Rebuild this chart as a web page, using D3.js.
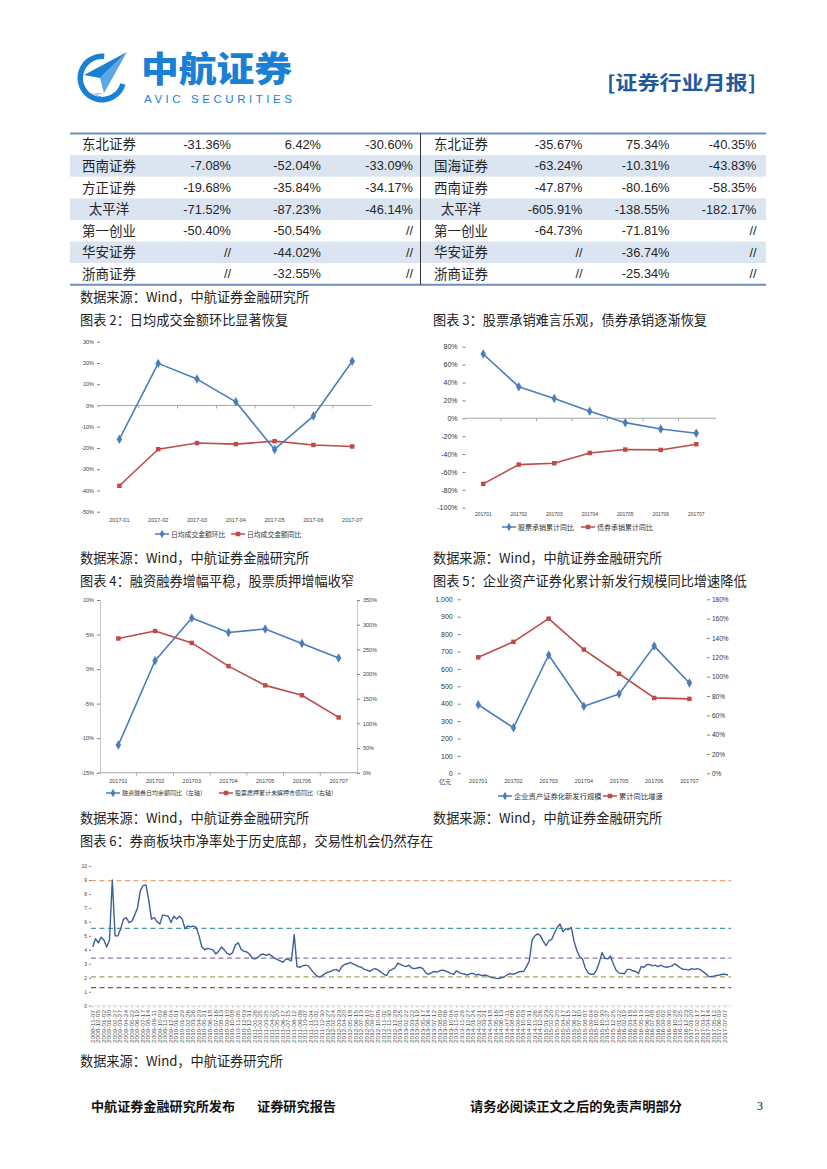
<!DOCTYPE html>
<html><head><meta charset="utf-8"><title>证券行业月报</title>
<script src="https://cdn.jsdelivr.net/npm/d3@7/dist/d3.min.js"></script>
<style>html,body{margin:0;padding:0;background:#fff}svg{display:block}</style>
</head><body>
<svg id="page" width="827" height="1169" xmlns="http://www.w3.org/2000/svg"></svg>
<script>
// ===================== DATA =====================
const tableLeftNames = ["东北证券","西南证券","方正证券","太平洋","第一创业","华安证券","浙商证券"];
const tableLeftCol1 = [-31.36,-7.08,-19.68,-71.52,-50.40,null,null];
const tableLeftCol2 = [6.42,-52.04,-35.84,-87.23,-50.54,-44.02,-32.55];
const tableLeftCol3 = [-30.60,-33.09,-34.17,-46.14,null,null,null];
const tableRightNames = ["东北证券","国海证券","西南证券","太平洋","第一创业","华安证券","浙商证券"];
const tableRightCol1 = [-35.67,-63.24,-47.87,-605.91,-64.73,null,null];
const tableRightCol2 = [75.34,-10.31,-80.16,-138.55,-71.81,-36.74,-25.34];
const tableRightCol3 = [-40.35,-43.83,-58.35,-182.17,null,null,null];

// Chart 2
const months2 = ["2017-01","2017-02","2017-03","2017-04","2017-05","2017-06","2017-07"];
const turnoverMoM = [-15.9,19.8,12.4,1.7,-20.7,-5.0,20.8];
const turnoverYoY = [-37.8,-20.6,-17.7,-18.2,-16.8,-18.6,-19.3];
const ticks2 = [-50,-40,-30,-20,-10,0,10,20,30];
const legend2 = ["日均成交金额环比","日均成交金额同比"];

// Chart 3
const months = ["201701","201702","201703","201704","201705","201706","201707"];
const equityUW = [71.8,35.3,22.0,7.8,-4.9,-12.0,-16.8];
const bondUW = [-73.4,-51.8,-50.3,-38.8,-35.0,-35.4,-29.0];
const ticks3 = [-100,-80,-60,-40,-20,0,20,40,60,80];
const legend3 = ["股票承销累计同比","债券承销累计同比"];

// Chart 4
const marginYoY = [-11.0,1.2,7.4,5.3,5.8,3.7,1.6];
const pledgeYoY = [272,287,263,216,177,157,112];
const ticks4L = [-15,-10,-5,0,5,10];
const ticks4R = [0,50,100,150,200,250,300,350];
const legend4 = ["融资融券日均余额同比（左轴）","股票质押累计未解押市值同比（右轴）"];

// Chart 5
const absIssue = [394,262,680,385,456,731,519];
const absGrowth = [120,136,160,128,103,78,77];
const ticks5L = [0,100,200,300,400,500,600,700,800,900,1000];
const ticks5R = [0,20,40,60,80,100,120,140,160,180];
const legend5 = ["企业资产证券化新发行规模","累计同比增速"];

// Chart 6 (PB of brokerage sector, bi-weekly samples)
const pbDateLabels = ["2008-11-07","2008-12-05","2009-01-02","2009-01-30","2009-02-27","2009-03-27","2009-04-24","2009-05-22","2009-06-19","2009-07-17","2009-08-14","2009-09-11","2009-10-09","2009-11-06","2009-12-04",
"2010-01-01","2010-01-29","2010-02-26","2010-03-26","2010-04-23","2010-05-21","2010-06-18","2010-07-16","2010-08-13","2010-09-10","2010-10-08","2010-11-05","2010-12-03","2010-12-31",
"2011-01-28","2011-02-25","2011-03-25","2011-04-22","2011-05-20","2011-06-17","2011-07-15","2011-08-12","2011-09-09","2011-10-07","2011-11-04","2011-12-02","2011-12-30",
"2012-01-27","2012-02-24","2012-03-23","2012-04-20","2012-05-18","2012-06-15","2012-07-13","2012-08-10","2012-09-07","2012-10-05","2012-11-02","2012-11-30","2012-12-28",
"2013-01-25","2013-02-22","2013-03-22","2013-04-19","2013-05-17","2013-06-14","2013-07-12","2013-08-09","2013-09-06","2013-10-04","2013-11-01","2013-11-29","2013-12-27",
"2014-01-24","2014-02-21","2014-03-21","2014-04-18","2014-05-16","2014-06-13","2014-07-11","2014-08-08","2014-09-05","2014-10-03","2014-10-31","2014-11-28","2014-12-26",
"2015-01-23","2015-02-20","2015-03-20","2015-04-17","2015-05-15","2015-06-12","2015-07-10","2015-08-07","2015-09-04","2015-10-02","2015-10-30","2015-11-27","2015-12-25",
"2016-01-22","2016-02-19","2016-03-18","2016-04-15","2016-05-13","2016-06-10","2016-07-08","2016-08-05","2016-09-02","2016-09-30","2016-10-28","2016-11-25","2016-12-23",
"2017-01-20","2017-02-17","2017-03-17","2017-04-14","2017-05-12","2017-06-09","2017-07-07"];
const pbValues = [
4.2,4.8,4.5,4.9,4.7,4.2,4.7,9.0,5.0,5.0,
5.5,6.2,6.3,5.95,6.05,6.5,7.0,8.2,8.6,8.65,
7.6,6.2,6.3,6.0,5.85,6.5,6.45,6.4,5.95,6.4,
6.2,6.4,6.2,5.5,5.7,5.65,5.7,5.6,5.0,4.2,
4.0,4.1,4.05,4.0,3.7,3.9,4.2,4.0,3.75,3.65,
3.8,4.35,4.5,4.05,3.9,3.85,3.7,3.4,3.35,3.45,
3.65,3.7,3.6,3.7,3.55,3.4,3.3,3.2,3.1,3.35,
3.3,3.2,5.1,2.8,2.75,2.85,
2.9,2.85,2.6,2.35,2.15,2.05,2.15,2.3,2.4,2.45,
2.55,2.6,2.45,2.8,2.95,3.0,3.1,3.0,2.9,2.8,
2.75,2.6,2.55,2.45,2.6,2.65,2.55,2.4,2.25,2.15,
2.5,2.6,2.7,3.05,2.95,2.85,2.8,2.9,2.7,2.65,
2.7,2.75,2.65,2.35,2.25,2.35,2.45,2.4,2.5,2.55,
2.5,2.4,2.3,2.25,2.5,2.35,2.3,2.25,2.2,2.3,
2.3,2.2,2.25,2.15,2.2,2.15,2.05,2.0,1.97,1.95,
2.0,2.05,2.2,2.3,2.25,2.3,2.4,2.45,2.45,
2.8,3.2,4.7,5.0,5.15,5.0,4.6,4.3,4.65,4.75,
5.2,5.6,5.85,5.3,5.5,5.45,5.6,4.6,3.95,3.5,
3.35,2.7,2.35,2.25,2.25,2.55,3.1,3.8,3.4,3.35,
3.55,3.0,2.55,2.35,2.3,2.3,2.6,2.6,2.5,2.45,
2.3,2.8,2.75,2.95,2.95,2.85,2.9,2.8,2.9,2.8,
2.75,2.8,2.85,3.0,2.85,2.7,2.6,2.6,2.55,2.65,
2.6,2.65,2.6,2.45,2.3,2.1,2.07,2.12,2.17,2.2,
2.25,2.25,2.2];
const pbRefValues = [8.95,5.54,3.41,2.07,1.3];
const pbRefColors = ["#eaa57a","#4b98a4","#8a7cab","#a8a35c","#a6443f"];
const ticks6 = [0,1,2,3,4,5,6,7,8,9,10];

// ===================== STYLE =====================
const CJK = "'Noto Sans CJK SC','Noto Sans',sans-serif";
const LAT = "'Liberation Sans',Arial,sans-serif";
const NARROW = "'Liberation Sans Narrow','Liberation Sans',Arial,sans-serif";
const BLUE = "#4a7ebb", RED = "#be4b48";

const svg = d3.select("#page");
svg.append("rect").attr("width",827).attr("height",1169).attr("fill","#fff");

function txt(g, x, y, s, o = {}) {
  const t = g.append("text").attr("x", x).attr("y", y).text(s)
    .attr("font-family", o.ff || CJK).attr("font-size", o.fs || 12)
    .attr("fill", o.fill || "#222").attr("text-anchor", o.anchor || "start")
    .attr("font-weight", o.fw || "normal");
  if (o.len) t.attr("textLength", o.len).attr("lengthAdjust", o.adj || "spacingAndGlyphs");
  return t;
}
function styleAxis(sel, o) {
  sel.attr("font-family", LAT);
  sel.select(".domain").attr("stroke", o.domain || "none");
  sel.selectAll(".tick line").attr("stroke", o.tick || "#808080");
  sel.selectAll(".tick text").attr("font-size", o.fs).attr("fill", o.fill || "#404040");
}
function seriesLine(g, xs, y, cats, vals, color, marker) {
  const cx = i => xs(cats[i]) + xs.bandwidth() / 2;
  g.append("path").datum(vals)
    .attr("d", d3.line().x((d, i) => cx(i)).y(d => y(d)))
    .attr("fill", "none").attr("stroke", color).attr("stroke-width", 1.6).attr("stroke-linejoin", "round");
  g.selectAll(null).data(vals).join("path")
    .attr("transform", (d, i) => `translate(${cx(i)},${y(d)})`)
    .attr("d", d3.symbol().type(marker === "diamond" ? d3.symbolDiamond : d3.symbolSquare).size(marker === "diamond" ? 26 : 20))
    .attr("fill", color);
}
function legendItem(g, x, y, color, marker, label, fs) {
  g.append("line").attr("x1", x).attr("x2", x + 14).attr("y1", y).attr("y2", y)
    .attr("stroke", color).attr("stroke-width", 1.5);
  g.append("path").attr("transform", `translate(${x + 7},${y})`)
    .attr("d", d3.symbol().type(marker === "diamond" ? d3.symbolDiamond : d3.symbolSquare).size(20)())
    .attr("fill", color);
  txt(g, x + 16, y + fs * 0.38, label, { fs, fill: "#333" });
}

// ===================== HEADER =====================
const hdr = svg.append("g");
hdr.append("path").attr("transform", "translate(102,78)")
  .attr("d", d3.arc().innerRadius(19).outerRadius(24.5).startAngle(1.85).endAngle(2 * Math.PI + 0.1)())
  .attr("fill", "#1a80d5");
hdr.append("path").attr("d", "M127,52 L84,75 L100,78 Z").attr("fill", "#1a80d5");
hdr.append("path").attr("d", "M127,52 L100,78 L104,93 Z").attr("fill", "#5aa6e6");
txt(hdr, 95, 97, "AVIC", { ff: LAT, fs: 5.5, fill: "#1a80d5", anchor: "middle" });
txt(hdr, 141, 82, "中航证券", { fs: 35, fw: 900, fill: "#1a80d5", len: 151 });
txt(hdr, 144, 102.5, "AVIC SECURITIES", { ff: LAT, fs: 11.5, fill: "#1a80d5", len: 148, adj: "spacing" });
txt(hdr, 607, 90, "[证券行业月报]", { fs: 19.5, fw: 700, fill: "#22599a", len: 149 });

// ===================== TABLE =====================
const tb = svg.append("g");
const rowTop = 133.5, rowH = 21.6;
tableLeftNames.forEach((n, i) => {
  if (i % 2 === 1) tb.append("rect").attr("x", 70).attr("y", rowTop + i * rowH).attr("width", 696).attr("height", rowH).attr("fill", "#dbe5f1");
});
tb.append("line").attr("x1", 70).attr("x2", 766).attr("y1", rowTop).attr("y2", rowTop).attr("stroke", "#6f8fc0").attr("stroke-width", 2);
tb.append("line").attr("x1", 70).attr("x2", 766).attr("y1", rowTop + 7 * rowH).attr("y2", rowTop + 7 * rowH).attr("stroke", "#6f8fc0").attr("stroke-width", 2);
tb.append("line").attr("x1", 420.5).attr("x2", 420.5).attr("y1", rowTop).attr("y2", rowTop + 7 * rowH).attr("stroke", "#333").attr("stroke-width", 1);
const fmtPct = v => v === null ? "//" : v.toFixed(2) + "%";
function tableHalf(names, cols, nameX, colX) {
  names.forEach((n, i) => {
    const yb = rowTop + i * rowH + rowH / 2 + 5;
    txt(tb, nameX, yb, n, { fs: 13.5, anchor: "middle", fill: "#262626" });
    cols.forEach((c, j) => txt(tb, colX[j], yb - 0.5, fmtPct(c[i]), { ff: NARROW, fs: 12.8, anchor: "end", fill: "#262626" }));
  });
}
tableHalf(tableLeftNames, [tableLeftCol1, tableLeftCol2, tableLeftCol3], 109, [231, 321, 413]);
tableHalf(tableRightNames, [tableRightCol1, tableRightCol2, tableRightCol3], 461, [582.5, 669.5, 756.5]);

// ===================== CAPTIONS =====================
const cap = svg.append("g");
const capFs = 13.2;
txt(cap, 80, 302, "数据来源：Wind，中航证券金融研究所", { fs: capFs });
txt(cap, 80, 325, "图表 2：日均成交金额环比显著恢复", { fs: capFs });
txt(cap, 433, 325, "图表 3：股票承销难言乐观，债券承销逐渐恢复", { fs: capFs });
txt(cap, 80, 563, "数据来源：Wind，中航证券金融研究所", { fs: capFs });
txt(cap, 433, 563, "数据来源：Wind，中航证券金融研究所", { fs: capFs });
txt(cap, 80, 586, "图表 4：融资融券增幅平稳，股票质押增幅收窄", { fs: capFs });
txt(cap, 433, 586, "图表 5：企业资产证券化累计新发行规模同比增速降低", { fs: capFs });
txt(cap, 80, 823, "数据来源：Wind，中航证券金融研究所", { fs: capFs });
txt(cap, 433, 823, "数据来源：Wind，中航证券金融研究所", { fs: capFs });
txt(cap, 80, 846, "图表 6：券商板块市净率处于历史底部，交易性机会仍然存在", { fs: capFs });
txt(cap, 80, 1066, "数据来源：Wind，中航证券研究所", { fs: capFs });

// ===================== CHART 2 =====================
{
  const g = svg.append("g");
  const x = d3.scaleBand().domain(months2).range([100, 371.6]);
  const y = d3.scaleLinear().domain([-50, 30]).range([511.7, 341.7]);
  g.append("g").attr("transform", "translate(100,0)")
    .call(d3.axisLeft(y).tickValues(ticks2).tickFormat(d => d + "%").tickSize(3).tickPadding(3))
    .call(styleAxis, { fs: 5.5 });
  g.append("line").attr("x1", 100).attr("x2", 371.6).attr("y1", y(0)).attr("y2", y(0)).attr("stroke", "#a6a6a6");
  g.selectAll(null).data(months2.slice(1)).join("line")
    .attr("x1", d => x(d)).attr("x2", d => x(d)).attr("y1", y(0)).attr("y2", y(0) + 3).attr("stroke", "#a6a6a6");
  g.append("g").attr("transform", `translate(0,${y(-50)})`)
    .call(d3.axisBottom(x).tickSize(0).tickPadding(6)).call(styleAxis, { fs: 5.5 });
  seriesLine(g, x, y, months2, turnoverYoY, RED, "square");
  seriesLine(g, x, y, months2, turnoverMoM, BLUE, "diamond");
  legendItem(g, 155, 534, BLUE, "diamond", legend2[0], 6.8);
  legendItem(g, 231, 534, RED, "square", legend2[1], 6.8);
}

// ===================== CHART 3 =====================
{
  const g = svg.append("g");
  const x = d3.scaleBand().domain(months).range([465.5, 714]);
  const y = d3.scaleLinear().domain([-100, 80]).range([507.7, 346.7]);
  g.append("g").attr("transform", "translate(465.5,0)")
    .call(d3.axisLeft(y).tickValues(ticks3).tickFormat(d => d + "%").tickSize(3).tickPadding(5))
    .call(styleAxis, { fs: 7, fill: "#333" });
  g.append("line").attr("x1", 465.5).attr("x2", 716).attr("y1", y(0)).attr("y2", y(0)).attr("stroke", "#a6a6a6");
  g.selectAll(null).data(months.slice(1)).join("line")
    .attr("x1", d => x(d)).attr("x2", d => x(d)).attr("y1", y(0)).attr("y2", y(0) + 3).attr("stroke", "#a6a6a6");
  g.append("g").attr("transform", `translate(0,${y(-100)})`)
    .call(d3.axisBottom(x).tickSize(0).tickPadding(5)).call(styleAxis, { fs: 5 });
  seriesLine(g, x, y, months, bondUW, RED, "square");
  seriesLine(g, x, y, months, equityUW, BLUE, "diamond");
  legendItem(g, 502, 527, BLUE, "diamond", legend3[0], 7);
  legendItem(g, 581, 527, RED, "square", legend3[1], 7);
}

// ===================== CHART 4 =====================
{
  const g = svg.append("g");
  const x = d3.scaleBand().domain(months).range([100, 357]);
  const yL = d3.scaleLinear().domain([-15, 10]).range([772.7, 600]);
  const yR = d3.scaleLinear().domain([0, 350]).range([772.7, 600]);
  g.append("g").attr("transform", "translate(100,0)")
    .call(d3.axisLeft(yL).tickValues(ticks4L).tickFormat(d => d + "%").tickSize(3).tickPadding(3))
    .call(styleAxis, { fs: 5.5, domain: "#c8c8c8" });
  g.append("g").attr("transform", "translate(357,0)")
    .call(d3.axisRight(yR).tickValues(ticks4R).tickFormat(d => d + "%").tickSize(3).tickPadding(3))
    .call(styleAxis, { fs: 5.5, domain: "#c8c8c8" });
  g.append("line").attr("x1", 100).attr("x2", 357).attr("y1", 772.7).attr("y2", 772.7).attr("stroke", "#a6a6a6");
  g.selectAll(null).data(months.slice(1)).join("line")
    .attr("x1", d => x(d)).attr("x2", d => x(d)).attr("y1", 772.7).attr("y2", 775.7).attr("stroke", "#a6a6a6");
  g.append("g").attr("transform", "translate(0,772.7)")
    .call(d3.axisBottom(x).tickSize(0).tickPadding(6)).call(styleAxis, { fs: 5.5 });
  seriesLine(g, x, yR, months, pledgeYoY, RED, "square");
  seriesLine(g, x, yL, months, marginYoY, BLUE, "diamond");
  legendItem(g, 106, 793, BLUE, "diamond", legend4[0], 6);
  legendItem(g, 219, 793, RED, "square", legend4[1], 6);
}

// ===================== CHART 5 =====================
{
  const g = svg.append("g");
  const x = d3.scaleBand().domain(months).range([460.7, 707]);
  const yL = d3.scaleLinear().domain([0, 1000]).range([773.3, 599.3]);
  const yR = d3.scaleLinear().domain([0, 180]).range([773.3, 599.3]);
  g.append("g").attr("transform", "translate(460.7,0)")
    .call(d3.axisLeft(yL).tickValues(ticks5L).tickSize(3).tickPadding(5))
    .call(styleAxis, { fs: 7, fill: "#333" });
  g.append("g").attr("transform", "translate(707,0)")
    .call(d3.axisRight(yR).tickValues(ticks5R).tickFormat(d => d + "%").tickSize(3).tickPadding(2))
    .call(styleAxis, { fs: 6.5, fill: "#333" });
  g.append("g").attr("transform", "translate(0,773.3)")
    .call(d3.axisBottom(x).tickSize(0).tickPadding(6)).call(styleAxis, { fs: 5.5 });
  txt(g, 445, 784, "亿元", { fs: 6, anchor: "middle", fill: "#333" });
  seriesLine(g, x, yR, months, absGrowth, RED, "square");
  seriesLine(g, x, yL, months, absIssue, BLUE, "diamond");
  legendItem(g, 498, 796, BLUE, "diamond", legend5[0], 7.3);
  legendItem(g, 603, 796, RED, "square", legend5[1], 7.3);
}

// ===================== CHART 6 =====================
{
  const g = svg.append("g");
  const x = d3.scaleLinear().domain([0, pbValues.length - 1]).range([92.7, 728]);
  const y = d3.scaleLinear().domain([0, 10]).range([1005.7, 866]);
  g.append("g").attr("transform", "translate(91,0)")
    .call(d3.axisLeft(y).tickValues(ticks6).tickSize(2).tickPadding(2))
    .call(styleAxis, { fs: 5 });
  g.selectAll(null).data(pbRefValues).join("line")
    .attr("x1", 91).attr("x2", 731).attr("y1", d => y(d)).attr("y2", d => y(d))
    .attr("stroke", (d, i) => pbRefColors[i]).attr("stroke-width", 1.2).attr("stroke-dasharray", "5,3.5");
  g.append("line").attr("x1", 91).attr("x2", 731).attr("y1", 1005.7).attr("y2", 1005.7).attr("stroke", "#d9d9d9").attr("stroke-width", 0.6);
  const labIdx = pbDateLabels.map((d, k) => 2 * k);
  g.selectAll(null).data(labIdx).join("line")
    .attr("x1", d => x(d)).attr("x2", d => x(d)).attr("y1", 1005.7).attr("y2", 1007.7).attr("stroke", "#9a9a9a").attr("stroke-width", 0.6);
  g.selectAll(null).data(pbDateLabels).join("text")
    .attr("transform", (d, k) => `translate(${x(2 * k) + 1.8},1010) rotate(-90)`)
    .attr("text-anchor", "end").attr("font-family", LAT).attr("font-size", 5.2).attr("fill", "#505050")
    .attr("textLength", 33).attr("lengthAdjust", "spacingAndGlyphs")
    .text(d => d);
  g.append("path").datum(pbValues)
    .attr("d", d3.line().x((d, i) => x(i)).y(d => y(d)))
    .attr("fill", "none").attr("stroke", "#3c5f9b").attr("stroke-width", 1.4).attr("stroke-linejoin", "round");
}

// ===================== FOOTER =====================
const ft = svg.append("g");
txt(ft, 91, 1111, "中航证券金融研究所发布", { fs: 13, fw: 700, fill: "#111", len: 144 });
txt(ft, 257, 1111, "证券研究报告", { fs: 13, fw: 700, fill: "#111", len: 79 });
txt(ft, 470, 1111, "请务必阅读正文之后的免责声明部分", { fs: 13, fw: 700, fill: "#111", len: 212 });
txt(ft, 757, 1110, "3", { ff: "'Liberation Serif',serif", fs: 12, fill: "#111" });
</script>
</body></html>
